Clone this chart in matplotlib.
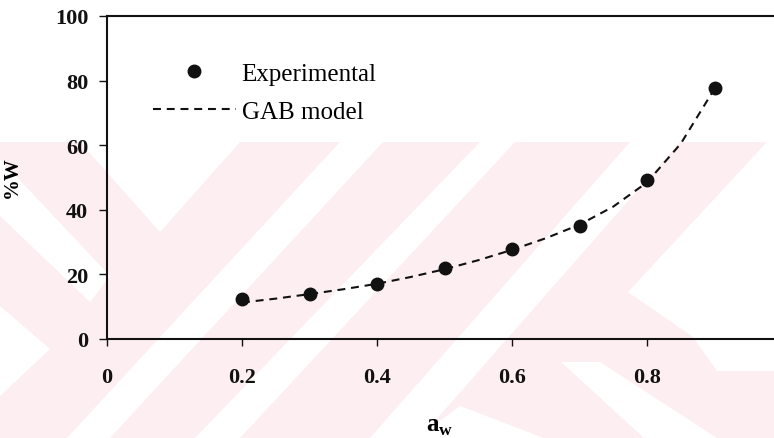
import matplotlib
matplotlib.use("Agg")
import matplotlib.pyplot as plt
from matplotlib.patches import Polygon

plt.rcParams['font.family'] = ['Liberation Serif', 'DejaVu Serif']
plt.rcParams['mathtext.fontset'] = 'custom'
plt.rcParams['mathtext.rm'] = 'Liberation Serif'
plt.rcParams['mathtext.bf'] = 'Liberation Serif:bold'

# experimental points
aw_exp = [0.2, 0.3, 0.4, 0.5, 0.6, 0.7, 0.8, 0.9]
w_exp = [12.4, 14.0, 16.9, 22.0, 27.9, 34.9, 49.2, 77.6]

# GAB model curve
aw_gab = [0.20, 0.25, 0.30, 0.35, 0.40, 0.45, 0.50, 0.55,
          0.60, 0.65, 0.70, 0.75, 0.80, 0.85, 0.90]
w_gab = [11.3, 12.5, 13.9, 15.4, 17.1, 19.2, 21.6, 24.4,
         27.6, 31.2, 35.4, 41.0, 48.5, 60.5, 77.5]

xticks = [0, 0.2, 0.4, 0.6, 0.8]
yticks = [0, 20, 40, 60, 80, 100]

W, H = 774, 439
fig = plt.figure(figsize=(W / 100, H / 100), dpi=100)

# faint pink watermark behind the chart (pixel coords, y down)
pink = '#fdeef1'
def px(pts):
    return [(x / W, 1 - y / H) for x, y in pts]

wm = [
    ([(0, 143), (774, 143), (774, 439), (0, 439)], pink),
    ([(0, 160), (110, 277), (90, 303), (0, 217)], 'white'),
    ([(80, 143), (240, 143), (160, 233)], 'white'),
    ([(0, 307), (50, 350), (0, 397)], 'white'),
    ([(67, 439), (110, 439), (383, 143), (340, 143)], 'white'),
    ([(195, 439), (240, 439), (515, 143), (480, 143)], 'white'),
    ([(370, 439), (420, 439), (680, 143), (630, 143)], 'white'),
    ([(628, 293), (767, 143), (774, 143), (774, 372), (717, 372), (693, 338)], 'white'),
    ([(561, 363), (600, 363), (717, 439), (644, 439)], 'white'),
    ([(417, 439), (544, 439), (460, 407)], 'white'),
]
for pts, c in wm:
    fig.add_artist(Polygon(px(pts), closed=True, transform=fig.transFigure,
                           facecolor=c, edgecolor='none', zorder=-10))

ax = fig.add_axes([107 / W, 1 - 340 / H, 1 - 107 / W, (340 - 17) / H])
ax.set_facecolor('none')

ax.plot(aw_gab, w_gab, color='#111111', lw=1.5, dashes=(3.8, 2.8),
        label='GAB model', zorder=2)
ax.plot(aw_exp, w_exp, 'o', color='#111111', ms=9, label='Experimental',
        zorder=3)

ax.set_xlim(0, 0.988)
ax.set_ylim(0, 100)
ax.set_xticks(xticks)
ax.set_xticklabels(['0', '0.2', '0.4', '0.6', '0.8'])
ax.set_yticks(yticks)

for s in ['left', 'top', 'bottom']:
    ax.spines[s].set_linewidth(1.5)
    ax.spines[s].set_color('#111111')
ax.spines['right'].set_visible(False)

ax.tick_params(axis='x', direction='out', length=5, width=1, pad=15,
               labelsize=16, colors='#111111')
ax.tick_params(axis='y', direction='out', length=5.5, width=1, pad=8,
               labelsize=16, colors='#111111')
for lab in ax.get_xticklabels() + ax.get_yticklabels():
    lab.set_fontweight('bold')

ax.set_ylabel('%W', fontsize=15, fontweight='bold')
ax.yaxis.set_label_coords(-0.127, 0.505)
ax.set_xlabel(r'$\mathbf{a}_\mathbf{w}$', fontsize=18)
ax.xaxis.set_label_coords(0.499, -0.235)

h, l = ax.get_legend_handles_labels()
leg = ax.legend(h[::-1], l[::-1], loc='upper left',
                bbox_to_anchor=(0.069, 0.856), frameon=False, fontsize=18,
                handlelength=3.3, handletextpad=0.24, labelspacing=0.6,
                borderpad=0, borderaxespad=0)

fig.savefig('out.png', dpi=100)
